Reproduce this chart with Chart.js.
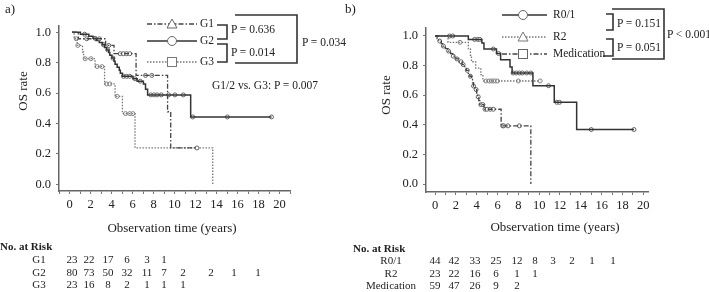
<!DOCTYPE html>
<html>
<head>
<meta charset="utf-8">
<script src="https://cdn.jsdelivr.net/npm/chart.js@4/dist/chart.umd.min.js"></script>
<style>
  html, body { margin: 0; padding: 0; background: #fff; }
  #page { position: relative; width: 709px; height: 292px; overflow: hidden; font-family: "Liberation Serif", "DejaVu Serif", serif; color: #222; }
  .box { position: absolute; }
  .lbl { position: absolute; white-space: nowrap; line-height: 1; }
  svg { position: absolute; left: 0; top: 0; pointer-events: none; }
</style>
</head>
<body>
<div id="page">
  <div class="box" style="left:0;top:0;"><canvas id="chartA" width="300" height="215"></canvas></div>
  <div class="box" style="left:350px;top:0;"><canvas id="chartB" width="308" height="216"></canvas></div>

  <svg width="709" height="292" viewBox="0 0 709 292">
    <!-- legend a -->
    <line x1="147" y1="24" x2="197" y2="24" stroke="#444" stroke-width="1.3" stroke-dasharray="5 2 1.5 2"/>
    <polygon points="172,19 177,28 167,28" fill="#fff" stroke="#666" stroke-width="1"/>
    <line x1="147" y1="41" x2="197" y2="41" stroke="#333" stroke-width="1.5"/>
    <circle cx="172" cy="41" r="4.5" fill="#fff" stroke="#666" stroke-width="1"/>
    <line x1="147" y1="62" x2="197" y2="62" stroke="#777" stroke-width="1.3" stroke-dasharray="1.5 1.5"/>
    <rect x="167.5" y="57.5" width="9" height="9" fill="#fff" stroke="#777" stroke-width="1"/>
    <!-- brackets a -->
    <polyline points="217,25 227,25 227,39 217,39" fill="none" stroke="#333" stroke-width="1.6"/>
    <polyline points="217,44 227,44 227,62 217,62" fill="none" stroke="#333" stroke-width="1.6"/>
    <polyline points="235,15 297,15 297,63 235,63" fill="none" stroke="#333" stroke-width="1.6"/>
    <!-- legend b -->
    <line x1="502" y1="15" x2="547" y2="15" stroke="#333" stroke-width="1.5"/>
    <circle cx="523" cy="15" r="4.5" fill="#fff" stroke="#666" stroke-width="1"/>
    <line x1="502" y1="37" x2="547" y2="37" stroke="#777" stroke-width="1.3" stroke-dasharray="1.5 1.5"/>
    <polygon points="523,32 528,41 518,41" fill="#fff" stroke="#777" stroke-width="1"/>
    <line x1="502" y1="54" x2="547" y2="54" stroke="#444" stroke-width="1.3" stroke-dasharray="5 2 1.5 2"/>
    <rect x="518.5" y="49.5" width="9" height="9" fill="#fff" stroke="#666" stroke-width="1"/>
    <!-- brackets b -->
    <polyline points="606,14 613,14 613,30 606,30" fill="none" stroke="#333" stroke-width="1.6"/>
    <polyline points="606,39 613,39 613,56 603,56" fill="none" stroke="#333" stroke-width="1.6"/>
    <polyline points="612,9 664,9 664,59 612,59" fill="none" stroke="#333" stroke-width="1.6"/>
  </svg>
</div>

<script>
// ---- data: Kaplan-Meier steps (time in years, survival after the event) ----
const g1Times = [0, 0.6, 3.2, 4.0, 6.1, 9.1, 9.4, 11.9];
const g1Surv  = [1, 0.957, 0.913, 0.859, 0.716, 0.477, 0.239, 0.239];
const g1Cens  = [1.4, 2.6, 3.5, 4.6, 4.9, 5.2, 5.5, 7.0, 7.6, 11.9];

const g2Times = [0, 0.8, 1.6, 2.0, 2.3, 2.6, 2.9, 3.1, 3.3, 3.5, 3.6, 3.8, 4.0, 4.1, 4.3, 4.5, 4.6, 4.8, 5.8, 6.2, 6.8, 7.0, 7.2, 11.3, 19.0];
const g2Surv  = [1, 0.987, 0.974, 0.96, 0.946, 0.932, 0.918, 0.90, 0.884, 0.866, 0.848, 0.83, 0.81, 0.79, 0.77, 0.75, 0.73, 0.71, 0.694, 0.678, 0.66, 0.625, 0.588, 0.443, 0.443];
const g2Cens  = [1.2, 2.2, 3.0, 3.4, 3.9, 4.9, 5.2, 5.5, 6.0, 6.5, 7.5, 7.8, 8.1, 8.5, 9.2, 9.8, 10.6, 11.5, 14.8, 19.0];

const g3Times = [0, 0.2, 0.5, 1.0, 1.1, 2.2, 3.1, 4.1, 4.8, 6.0, 13.4];
const g3Surv  = [1, 0.957, 0.913, 0.870, 0.826, 0.774, 0.66, 0.578, 0.465, 0.24, 0];
const g3Cens  = [0.4, 0.55, 1.25, 1.8, 2.4, 2.85, 3.3, 3.6, 4.3, 5.1, 5.5, 5.8];

const r01Times = [0, 3.2, 4.5, 4.7, 5.9, 6.3, 7.2, 7.4, 9.4, 11.45, 13.6, 19.1];
const r01Surv  = [1, 0.977, 0.953, 0.912, 0.882, 0.84, 0.79, 0.75, 0.664, 0.552, 0.368, 0.368];
const r01Cens  = [1.4, 1.7, 3.8, 4.1, 4.3, 5.6, 6.1, 7.5, 7.8, 8.1, 8.4, 8.8, 9.2, 10.9, 11.7, 11.95, 15.0, 19.1];

const r2Times = [0, 1.25, 3.2, 3.4, 3.5, 3.9, 4.4, 4.6, 10.1];
const r2Surv  = [1, 0.957, 0.913, 0.87, 0.826, 0.783, 0.739, 0.696, 0.696];
const r2Cens  = [2.4, 4.9, 5.2, 5.4, 5.6, 5.8, 6.0, 8.0, 10.1];

const medTimes = [0, 0.2, 0.35, 0.6, 0.75, 1.0, 1.25, 1.5, 1.7, 2.0, 2.3, 2.6, 2.85, 3.0, 3.2, 3.35, 3.5, 3.6, 3.7, 3.85, 4.0, 4.1, 4.2, 4.3, 4.7, 6.35, 9.2];
const medSurv  = [1, 0.983, 0.966, 0.949, 0.932, 0.915, 0.898, 0.881, 0.864, 0.845, 0.826, 0.807, 0.788, 0.768, 0.748, 0.728, 0.706, 0.684, 0.662, 0.638, 0.614, 0.589, 0.563, 0.536, 0.505, 0.393, 0];
const medCens  = [0.45, 0.8, 1.3, 1.75, 2.1, 2.5, 2.7, 3.1, 3.4, 3.7, 3.95, 4.15, 4.4, 4.6, 4.8, 5.0, 5.3, 5.6, 6.5, 6.6, 7.0, 8.1];

// numbers at risk, every 2 years
const riskLabelsA = ['G1', 'G2', 'G3'];
const riskG1 = [23, 22, 17, 6, 3, 1];
const riskG2 = [80, 73, 50, 32, 11, 7, 2, 2, 1, 1];
const riskG3 = [23, 16, 8, 2, 1, 1, 1];
const riskLabelsB = ['R0/1', 'R2', 'Medication'];
const riskR01 = [44, 42, 33, 25, 12, 8, 3, 2, 1, 1];
const riskR2  = [23, 22, 16, 6, 1, 1];
const riskMed = [59, 47, 26, 9, 2];

const yTickStep = 0.2;
const xTickStep = 1;

// ---- helpers ----
const FONT = '"Liberation Serif", "DejaVu Serif", serif';
const page = document.getElementById('page');

function label(text, x, y, opts = {}) {
  const d = document.createElement('div');
  d.className = 'lbl';
  d.textContent = text;
  d.style.left = x + 'px';
  d.style.top = y + 'px';
  d.style.fontSize = (opts.size || 11.5) + 'px';
  if (opts.bold) d.style.fontWeight = 'bold';
  const a = opts.align || 'left';
  const tx = a === 'center' ? '-50%' : a === 'right' ? '-100%' : '0';
  d.style.transform = 'translate(' + tx + ',-50%)' + (opts.rotate ? ' rotate(-90deg)' : '');
  page.appendChild(d);
}

function survAt(times, surv, t) {
  let s = 1;
  for (let i = 0; i < times.length; i++) if (times[i] <= t) s = surv[i];
  return s;
}

function curve(times, surv, cens, style) {
  return [{
    data: times.map((t, i) => ({ x: t, y: surv[i] })),
    stepped: true,
    borderColor: style.color,
    borderWidth: style.width,
    borderDash: style.dash,
    pointRadius: 0,
    fill: false
  }, {
    data: cens.map(t => ({ x: t, y: survAt(times, surv, t) })),
    showLine: false,
    pointRadius: 2,
    pointBackgroundColor: '#fff',
    pointBorderColor: style.mark,
    pointBorderWidth: 0.9
  }];
}

const solid   = { color: '#333', width: 1.5, dash: [], mark: '#555' };
const dotted  = { color: '#777', width: 1.3, dash: [1.5, 1.5], mark: '#777' };
const dashDot = { color: '#444', width: 1.3, dash: [5, 2, 1.5, 2], mark: '#555' };

function makeChart(id, datasets, xr, yr, yAxisW) {
  const axisBorder = { display: true, color: '#666', width: 1.5 };
  const grid = { drawOnChartArea: false, drawTicks: true, tickLength: 3, color: '#777' };
  new Chart(document.getElementById(id), {
    type: 'line',
    data: { datasets },
    options: {
      responsive: false,
      animation: false,
      layout: { padding: { top: yr.padTop, right: 10, left: 0, bottom: 0 } },
      plugins: { legend: { display: false }, tooltip: { enabled: false } },
      scales: {
        x: {
          type: 'linear', min: xr[0], max: xr[1],
          border: axisBorder, grid,
          ticks: {
            stepSize: xTickStep, includeBounds: false, autoSkip: false, maxRotation: 0,
            padding: 3, color: '#222', font: { family: FONT, size: 12.5 },
            callback: v => (Math.round(v) >= 0 && Math.round(v) % 2 === 0 ? String(Math.round(v)) : '')
          },
          afterFit: s => { s.height = 24; }
        },
        y: {
          min: yr.min, max: yr.max,
          border: axisBorder, grid,
          ticks: {
            stepSize: yTickStep, includeBounds: false,
            padding: 5, color: '#222', font: { family: FONT, size: 12.5 },
            callback: v => v.toFixed(1)
          },
          afterFit: s => { s.width = yAxisW; }
        }
      }
    }
  });
}

// ---- panel a ----
makeChart('chartA', [
  ...curve(g1Times, g1Surv, g1Cens, dashDot),
  ...curve(g2Times, g2Surv, g2Cens, solid),
  ...curve(g3Times, g3Surv, g3Cens, dotted)
], [-1.24, 20.76], { min: -0.044, max: 1.041, padTop: 26 }, 59);

// ---- panel b ----
makeChart('chartB', [
  ...curve(r01Times, r01Surv, r01Cens, solid),
  ...curve(r2Times, r2Surv, r2Cens, dotted),
  ...curve(medTimes, medSurv, medCens, dashDot)
], [-0.865, 20.45], { min: -0.054, max: 1.054, padTop: 28 }, 76);

// ---- texts ----
label('a)', 5, 8, { size: 13 });
label('b)', 345, 8, { size: 13 });
label('OS rate', 22, 91, { size: 13, align: 'center', rotate: true });
label('OS rate', 385, 95, { size: 13, align: 'center', rotate: true });
label('Observation time (years)', 172, 227, { size: 13, align: 'center' });
label('Observation time (years)', 555, 226, { size: 13, align: 'center' });

label('G1', 200, 24); label('G2', 200, 41); label('G3', 200, 62);
label('P = 0.636', 231, 30); label('P = 0.014', 231, 53);
label('P = 0.034', 302, 43);
label('G1/2 vs. G3: P = 0.007', 212, 86);

label('R0/1', 553, 15); label('R2', 553, 37); label('Medication', 553, 54);
label('P = 0.151', 617, 24); label('P = 0.051', 617, 48);
label('P < 0.001', 667, 35);

// risk tables
const colsA = [72, 89, 108, 127, 147, 164, 183, 211, 234, 258];
const colsB = [435, 454, 475, 496, 517, 535, 553, 572, 592, 613];
function riskTable(title, tx, ty, names, nameX, rows, rowY, cols) {
  label(title, tx, ty, { size: 11, bold: true });
  rows.forEach((vals, r) => {
    label(names[r], nameX, rowY[r], { size: 11, align: 'center' });
    vals.forEach((v, c) => label(String(v), cols[c], rowY[r], { size: 11, align: 'center' }));
  });
}
riskTable('No. at Risk', 0, 246, riskLabelsA, 39, [riskG1, riskG2, riskG3], [259, 272, 284], colsA);
riskTable('No. at Risk', 353, 248, riskLabelsB, 391, [riskR01, riskR2, riskMed], [259.5, 272.5, 285], colsB);
</script>
</body>
</html>
